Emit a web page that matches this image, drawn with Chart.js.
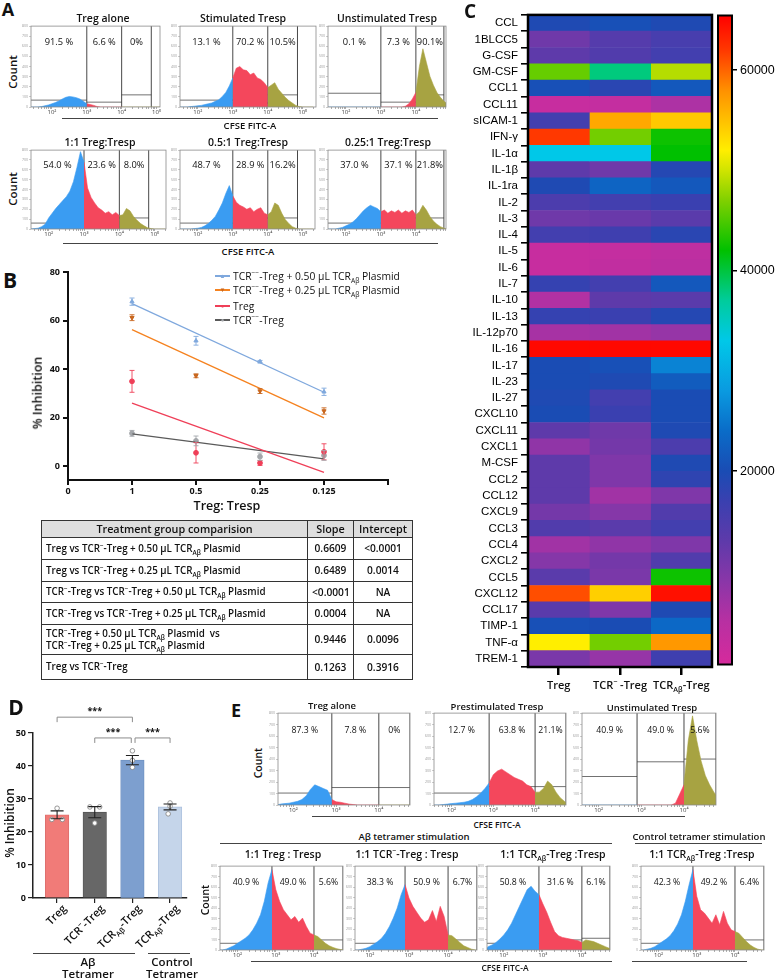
<!DOCTYPE html>
<html>
<head>
<meta charset="utf-8">
<title>Treg suppression figure</title>
<script src="https://cdn.jsdelivr.net/npm/chart.js@4.4.1/dist/chart.umd.min.js"></script>
<style>
  body { margin: 0; background: #fff; }
  #fig { position: relative; width: 777px; height: 980px; overflow: hidden; font-family: "Open Sans", sans-serif; color: #111; }
  #fig canvas { position: absolute; }
  .lb { position: absolute; white-space: nowrap; line-height: 1; }
  sup, sub { font-size: 65%; line-height: 0; }
  #tbl { position: absolute; left: 41px; top: 520px; width: 371px; border-collapse: collapse; font-weight: 600; table-layout: fixed; }
  #tbl th, #tbl td { border: 1.5px solid #333; padding: 0 4px; line-height: 1.2; }
  #tbl th { background: #dedede; height: 16px; font-size: 10.8px; font-weight: 600; }
  #tbl td { text-align: center; font-size: 10.2px; }
  #tbl td:first-child { text-align: left; font-size: 9.8px; }
</style>
</head>
<body>
<div id="fig"></div>
<script>
// ---------- histogram data (log10 CFSE grid, counts as % of axis height) ----------
const logGrid = [1.4,1.5,1.6,1.7,1.8,1.9,2.0,2.1,2.2,2.3,2.4,2.5,2.6,2.7,2.8,2.9,3.0,3.1,3.2,3.3,3.4,3.5,3.6,3.7,3.8,3.9,4.0,4.1,4.2,4.3,4.4,4.5,4.6,4.7,4.8,4.9,5.0,5.1,5.2,5.3];
const countTicks = ['0','100','200','300','400','500','600','700','800'];
const decadeLabels = { 2: '10²', 3: '10³', 4: '10⁴', 5: '10⁵' };

const aTregAlone = [0,0,0,0.5,1.5,2.5,4,5.5,7.5,10,12,13,12.5,11.5,10,7,4,3,2,0.5,0,0,0,0,0,0,0,0,0,0,0,0,0,0,0,0,0,0,0,0];
const aStimTresp = [0,0,0,0,0.5,1,1.5,2,3,4,5,7,9,13,18,26,36,48,50,46,45,40,42,36,34,30,24,27,30,22,17,12,8,5,2,0.5,0,0,0,0];
const aUnstimTresp = [0,0,0,0,0,0,0,0,0,0,0,0,0,0,0,0,0,0,0,0,0,0,0,1,4,10,18,50,72,55,38,27,18,12,7,4,1,0,0,0];
const aRatio1 = [0,0,0.5,1,3,6,14,20,26,31,36,41,48,60,78,98,85,52,40,33,27,24,20,22,18,21,17,18,26,23,16,11,7,4,1.5,0.5,0,0,0,0];
const aRatio05 = [0,0,0,0,0,0.5,1,2,4,7,11,16,24,33,45,55,42,34,30,28,25,27,22,25,27,20,18,22,33,30,20,12,7,3,1,0,0,0,0,0];
const aRatio025 = [0,0,0,0,1,2,4,6,9,13,18,23,27,30,28,26,22,24,20,23,21,24,20,23,21,24,18,22,30,24,16,10,6,3,1,0,0,0,0,0];

const eTregAlone = [0,0,0,1,1.5,2,3,4,6,10,17,22,20,18,16,6,3.5,3,2,1,0.5,0,0,0,0,0,0,0,0,0,0,0,0,0,0,0,0,0,0,0];
const ePrestim = [0,0,0,0,0.5,1,1.5,2,2.5,3,4,6,9,13,18,24,33,37,39,36,33,30,28,26,22,20,14,14,18,26,22,14,8,4,1,0,0,0,0,0];
const eUnstim = [0,0,0,0,0,0,0,0,0,0,0,0,0,0,0,0,0,0,0,0,0,0,0,0,2,12,22,70,97,70,48,32,22,14,8,4,1,0,0,0];
const eTreg = [0,0,0,1,3,5,8,11,14,18,24,32,42,58,80,96,72,58,48,42,36,40,33,38,28,20,18,16,12,8,5,3,1.5,0.5,0,0,0,0,0,0];
const eTcrKO = [0,0,0,0,1,2,4,7,10,14,20,28,38,50,66,78,62,52,45,38,33,36,47,34,52,40,18,17,13,9,5,3,1,0,0,0,0,0,0,0];
const eTcrAb = [0,0,4,6,9,13,18,24,32,42,52,62,72,76,70,66,55,45,33,22,17,15,14,13,12,11,9,12,11,10,8,6,4,2,1,0,0,0,0,0];
const eControl = [0,0,0,1,2,4,7,10,13,17,23,31,42,58,78,96,64,48,44,38,32,42,30,46,32,24,22,20,15,10,6,3,1,0,0,0,0,0,0,0];

const pctA1 = ['91.5 %', '6.6 %', '0%'];
const pctA2 = ['13.1 %', '70.2 %', '10.5%'];
const pctA3 = ['0.1 %', '7.3 %', '90.1%'];
const pctA4 = ['54.0 %', '23.6 %', '8.0%'];
const pctA5 = ['48.7 %', '28.9 %', '16.2%'];
const pctA6 = ['37.0 %', '37.1 %', '21.8%'];
const pctE1 = ['87.3 %', '7.8 %', '0%'];
const pctE2 = ['12.7 %', '63.8 %', '21.1%'];
const pctE3 = ['40.9 %', '49.0 %', '5.6%'];
const pctE4 = ['40.9 %', '49.0 %', '5.6%'];
const pctE5 = ['38.3 %', '50.9 %', '6.7%'];
const pctE6 = ['50.8 %', '31.6 %', '6.1%'];
const pctE7 = ['42.3 %', '49.2 %', '6.4%'];

// ---------- panel B ----------
const bX = [1, 2, 3, 4];
const bTickLabels = ['0', '1', '0.5', '0.25', '0.125', ''];
const fitX = [1, 4];
const p50Mean = [67.8, 51.7, 43.1, 30.7], p50Err = [1.5, 1.8, 0.5, 1.5], p50Fit = [67.0, 30.5];
const p25Mean = [61.2, 37.3, 31.0, 22.8], p25Err = [1.2, 0.8, 1.0, 1.3], p25Fit = [56.3, 20.0];
const tregMean = [35.0, 5.6, 1.4, 6.0], tregErr = [4.5, 4.2, 1.0, 3.3], tregFit = [26.0, -2.5];
const tcrMean = [13.6, 10.5, 4.0, 4.5], tcrErr = [1.2, 2.0, 1.5, 2.0], tcrFit = [13.4, 3.1];
const bNames = [
  'TCR<sup>−−</sup>-Treg + 0.50 µL TCR<sub>Aβ</sub> Plasmid',
  'TCR<sup>−−</sup>-Treg + 0.25 µL TCR<sub>Aβ</sub> Plasmid',
  'Treg',
  'TCR<sup>−−</sup>-Treg'
];

// table
const tblRows = [
  'Treg vs TCR<sup>−</sup>-Treg + 0.50 µL TCR<sub>Aβ</sub> Plasmid',
  'Treg vs TCR<sup>−</sup>-Treg + 0.25 µL TCR<sub>Aβ</sub> Plasmid',
  'TCR<sup>−</sup>-Treg vs TCR<sup>−</sup>-Treg + 0.50 µL TCR<sub>Aβ</sub> Plasmid',
  'TCR<sup>−</sup>-Treg vs TCR<sup>−</sup>-Treg + 0.25 µL TCR<sub>Aβ</sub> Plasmid',
  'TCR<sup>−</sup>-Treg + 0.50 µL TCR<sub>Aβ</sub> Plasmid &nbsp;vs<br>TCR<sup>−</sup>-Treg + 0.25 µL TCR<sub>Aβ</sub> Plasmid',
  'Treg vs TCR<sup>−</sup>-Treg'
];
const tblSlope = ['0.6609', '0.6489', '&lt;0.0001', '0.0004', '0.9446', '0.1263'];
const tblIntercept = ['&lt;0.0001', '0.0014', 'NA', 'NA', '0.0096', '0.3916'];

// ---------- panel C heatmap ----------
const hmRows = ['CCL','1BLCC5','G-CSF','GM-CSF','CCL1','CCL11','sICAM-1','IFN-γ','IL-1α','IL-1β','IL-1ra','IL-2','IL-3','IL-4','IL-5','IL-6','IL-7','IL-10','IL-13','IL-12p70','IL-16','IL-17','IL-23','IL-27','CXCL10','CXCL11','CXCL1','M-CSF','CCL2','CCL12','CXCL9','CCL3','CCL4','CXCL2','CCL5','CXCL12','CCL17','TIMP-1','TNF-α','TREM-1'];
const hmTreg = [19500,11500,13000,46000,20500,2500,16000,62000,33000,13000,19500,15000,11500,16000,2500,2500,17500,5500,17500,6500,65000,20000,20000,19500,20000,13000,8500,13000,13000,13000,11000,14500,7000,9500,13500,61000,13500,20500,52000,10500];
const hmTcrKO = [20500,14000,14500,38000,18500,3000,56500,46500,33000,11500,23000,16000,12000,16500,3000,3500,16000,13000,17000,7000,65000,20500,19500,16000,17000,11500,11000,10000,10000,7000,9500,13500,8500,11000,10500,54000,10000,20000,46500,8000];
const hmTcrAb = [19500,15500,16000,49000,21500,6000,54500,42500,42000,19000,21500,17000,13500,18500,4000,4500,21500,13500,19000,8000,65000,26000,22000,20000,20000,19500,15000,19500,18000,10000,14500,16000,10000,14500,42500,64500,19500,23500,57500,16500];
const hmColNames = ['Treg', 'TCR<sup>−</sup> -Treg', 'TCR<sub>Aβ</sub>-Treg'];
const cbMin = 700, cbMax = 65450;
const cbTicks = [20000, 40000, 60000];

// ---------- panel D ----------
const xD = [0, 1, 2, 3];
const dNames = ['Treg', 'TCR<sup>−</sup>-Treg', 'TCR<sub>Aβ</sub>-Treg', 'TCR<sub>Aβ</sub>-Treg'];
const dMeans = [25.2, 26.0, 41.8, 27.6];
const dSem = [1.2, 1.7, 1.4, 0.9];
const dDotsY = [[27.2, 23.8, 23.8], [27.6, 27.6, 22.7], [44.6, 41.7, 39.6], [28.8, 27.8, 25.5]];
const dDotsX = [[0, -0.14, 0.14], [0.87, 1.13, 1.0], [2, 2, 2], [3, 3, 2.95]];
const dBrackets = [[0, 2, 54.8], [1, 1.97, 48.5], [2.07, 3, 48.5]];

// ---------- colours ----------
const BLUE = '#3a9cf2', RED = '#f4475c', OLIVE = '#a7a342';
const cmapVals = [0,5000,9000,13000,17000,20000,24000,28000,33000,37000,42000,47000,50000,52000,55000,58000,62000,65500];
const cmapCols = ['#d62a9c','#b830a2','#8a36a8','#5e3aaa','#3a40b0','#1a4cb4','#0a6cc8','#0a9ae0','#00c8e8','#00cc9c','#00c000','#80d000','#d0e400','#ffee00','#ffc000','#ff9000','#ff3800','#ff0000'];

function hexRgb(h) { return [1, 3, 5].map(i => parseInt(h.slice(i, i + 2), 16)); }
function heatColor(v) {
  let i = 0;
  while (i < cmapVals.length - 2 && v > cmapVals[i + 1]) i++;
  const t = Math.max(0, Math.min(1, (v - cmapVals[i]) / (cmapVals[i + 1] - cmapVals[i])));
  const a = hexRgb(cmapCols[i]), b = hexRgb(cmapCols[i + 1]);
  return 'rgb(' + a.map((c, k) => Math.round(c + (b[k] - c) * t)).join(',') + ')';
}

// ---------- helpers ----------
Chart.defaults.font.family = '"Open Sans", sans-serif';
Chart.defaults.color = '#111';
Chart.defaults.animation = false;

const fig = document.getElementById('fig');
function put(html, x, y, css, tf) {
  const d = document.createElement('div');
  d.className = 'lb';
  d.style.cssText = `left:${x}px;top:${y}px;transform:${tf || 'translate(-50%,-50%)'};${css || ''}`;
  d.innerHTML = html;
  fig.appendChild(d);
  return d;
}
function hline(x1, x2, y, w, col) {
  const d = document.createElement('div');
  d.style.cssText = `position:absolute;left:${x1}px;top:${y - (w || 1) / 2}px;width:${x2 - x1}px;height:${w || 1}px;background:${col || '#333'}`;
  fig.appendChild(d);
}
function canvasAt(x, y, w, h) {
  const c = document.createElement('canvas');
  c.width = w; c.height = h;
  c.style.cssText = `left:${x}px;top:${y}px;width:${w}px;height:${h}px`;
  fig.appendChild(c);
  return c;
}

// frame box around chart area
Chart.register({
  id: 'frame',
  afterDraw(c, a, o) {
    if (!o.color) return;
    const r = c.chartArea, ctx = c.ctx;
    ctx.save();
    ctx.strokeStyle = o.color; ctx.lineWidth = o.width;
    ctx.strokeRect(r.left, r.top, r.right - r.left, r.bottom - r.top);
    ctx.restore();
  }
});
// gate percentage labels
Chart.register({
  id: 'regions',
  afterDatasetsDraw(c, a, o) {
    if (!o.labels) return;
    const x = c.scales.x, ctx = c.ctx;
    ctx.save();
    ctx.font = o.font; ctx.fillStyle = '#111';
    ctx.textAlign = 'center'; ctx.textBaseline = 'middle';
    o.labels.forEach((t, i) => {
      const cx = (x.getPixelForValue(o.edges[i]) + x.getPixelForValue(o.edges[i + 1])) / 2;
      ctx.fillText(t, cx, c.chartArea.top + o.dy);
    });
    ctx.restore();
  }
});
// error bars
Chart.register({
  id: 'errbars',
  afterDatasetsDraw(c, a, o) {
    if (!o.sets) return;
    const x = c.scales.x, y = c.scales.y, ctx = c.ctx;
    ctx.save();
    o.sets.forEach(s => {
      ctx.strokeStyle = s.color; ctx.lineWidth = s.width;
      s.xs.forEach((xv, i) => {
        const px = x.getPixelForValue(xv);
        const y1 = y.getPixelForValue(s.ys[i] - s.es[i]), y2 = y.getPixelForValue(s.ys[i] + s.es[i]);
        ctx.beginPath();
        ctx.moveTo(px, y1); ctx.lineTo(px, y2);
        ctx.moveTo(px - s.cap, y1); ctx.lineTo(px + s.cap, y1);
        ctx.moveTo(px - s.cap, y2); ctx.lineTo(px + s.cap, y2);
        ctx.stroke();
      });
    });
    ctx.restore();
  }
});
// significance brackets
Chart.register({
  id: 'brackets',
  afterDraw(c, a, o) {
    if (!o.items) return;
    const x = c.scales.x, y = c.scales.y, ctx = c.ctx;
    ctx.save();
    o.items.forEach(([x1, x2, yv]) => {
      const p1 = x.getPixelForValue(x1), p2 = x.getPixelForValue(x2), py = y.getPixelForValue(yv);
      ctx.strokeStyle = '#8c8c8c'; ctx.lineWidth = 1;
      ctx.beginPath();
      ctx.moveTo(p1, py + 5); ctx.lineTo(p1, py); ctx.lineTo(p2, py); ctx.lineTo(p2, py + 5);
      ctx.stroke();
      ctx.fillStyle = '#111'; ctx.font = 'bold 9px "Open Sans"';
      ctx.textAlign = 'center'; ctx.textBaseline = 'middle';
      ctx.fillText(o.text, (p1 + p2) / 2, py - 6);
    });
    ctx.restore();
  }
});

// ---------- flow histograms ----------
const logMinor = [];
[1, 2, 3, 4, 5].forEach(d => { for (let k = 1; k <= 9; k++) logMinor.push(d + Math.log10(k)); });

function histogram(h) {
  const [fx, fy, fw, fh] = h.frame;
  const padL = 10, padB = 10, padT = 2, padR = 2;
  const cv = canvasAt(fx - padL, fy - padT, fw + padL + padR, fh + padT + padB);
  const pts = logGrid.map((x, i) => ({ x, y: h.counts[i] }));
  const [g1, g2, g3] = h.gates;
  const part = (a, b) => pts.filter(p => p.x > a - 1e-6 && p.x < b + 1e-6);
  const area = (data, col) => ({ data, fill: 'origin', backgroundColor: col, borderColor: col, borderWidth: 0.6, pointRadius: 0 });
  const seg = (x1, y1, x2, y2, w) => ({ data: [{ x: x1, y: y1 }, { x: x2, y: y2 }], borderColor: '#333', borderWidth: w, pointRadius: 0, fill: false });
  const edges = [h.xmin, g1, g2, g3];
  const datasets = [area(part(0, g1), BLUE), area(part(g1, g2), RED), area(part(g2, 9), OLIVE)];
  h.bars.forEach((lv, i) => datasets.push(seg(edges[i], lv, edges[i + 1], lv, 0.7)));
  [g1, g2, g3].forEach(g => datasets.push(seg(g, 0, g, 100, 0.9)));
  new Chart(cv, {
    type: 'line',
    data: { datasets },
    options: {
      responsive: false, events: [],
      layout: { padding: { top: padT, right: padR, left: 0, bottom: 0 } },
      plugins: {
        legend: { display: false }, tooltip: { enabled: false },
        frame: { color: '#8a8a8a', width: 0.8 },
        regions: { labels: h.pct, edges, font: h.font, dy: h.dy }
      },
      scales: {
        x: {
          type: 'linear', min: h.xmin, max: h.xmax,
          afterFit: s => { s.height = padB; },
          afterBuildTicks: s => { s.ticks = logMinor.filter(v => v >= s.min && v <= s.max).map(v => ({ value: v })); },
          ticks: { autoSkip: false, maxRotation: 0, padding: 0, font: { size: 6 }, color: '#444',
            callback: v => (Math.abs(v - Math.round(v)) < 1e-6 ? (decadeLabels[Math.round(v)] || '') : '') },
          grid: { drawOnChartArea: false, tickLength: 2, color: '#777', lineWidth: 0.6 },
          border: { display: false }
        },
        y: {
          min: 0, max: 100,
          afterFit: s => { s.width = padL; },
          ticks: { stepSize: 12.5, font: { size: 3.5 }, color: '#999', padding: 1, callback: (v, i) => countTicks[i] || '' },
          grid: { drawOnChartArea: false, tickLength: 2, color: '#999', lineWidth: 0.5 },
          border: { display: false }
        }
      }
    }
  });
}

const fA = '9.3px "Open Sans"', fE = '8.7px "Open Sans"';
const histPanels = [
  { counts: aTregAlone, pct: pctA1, frame: [31, 25, 129, 82], xmin: 1.4, xmax: 5.1, gates: [3.0, 4.0, 4.85], bars: [8.5, 6, 15], font: fA, dy: 16 },
  { counts: aStimTresp, pct: pctA2, frame: [180, 25, 136, 82], xmin: 1.49, xmax: 5.38, gates: [3.0, 4.0, 4.85], bars: [8.5, 5, 15], font: fA, dy: 16 },
  { counts: aUnstimTresp, pct: pctA3, frame: [328, 25, 118, 82], xmin: 1.49, xmax: 4.86, gates: [3.0, 4.0, 4.8], bars: [17, 6, 15], font: fA, dy: 16 },
  { counts: aRatio1, pct: pctA4, frame: [31, 149, 135, 80], xmin: 1.5, xmax: 5.32, gates: [3.0, 4.0, 4.83], bars: [7.5, 14, 14], font: fA, dy: 15 },
  { counts: aRatio05, pct: pctA5, frame: [180, 149, 135, 80], xmin: 1.49, xmax: 5.35, gates: [3.0, 4.0, 4.85], bars: [7.5, 14, 14], font: fA, dy: 15 },
  { counts: aRatio025, pct: pctA6, frame: [328, 149, 118, 80], xmin: 1.49, xmax: 4.86, gates: [3.0, 4.0, 4.8], bars: [7.5, 14, 14], font: fA, dy: 15 },
  { counts: eTregAlone, pct: pctE1, frame: [278, 712, 132, 93], xmin: 1.64, xmax: 4.73, gates: [2.9, 4.0, 4.73], bars: [13, 19, 19], font: fE, dy: 17 },
  { counts: ePrestim, pct: pctE2, frame: [434, 712, 132, 93], xmin: 1.58, xmax: 4.74, gates: [2.9, 4.0, 4.74], bars: [13, 20, 20], font: fE, dy: 17 },
  { counts: eUnstim, pct: pctE3, frame: [582, 712, 134, 93], xmin: 1.61, xmax: 4.75, gates: [2.9, 4.0, 4.75], bars: [31, 47, 50], font: fE, dy: 17 },
  { counts: eTreg, pct: pctE4, frame: [220, 865, 123, 85], xmin: 1.54, xmax: 4.76, gates: [2.9, 4.0, 4.76], bars: [8, 12, 12], font: fE, dy: 16 },
  { counts: eTcrKO, pct: pctE5, frame: [355, 865, 122, 85], xmin: 1.62, xmax: 4.74, gates: [2.9, 4.0, 4.74], bars: [8, 12, 12], font: fE, dy: 16 },
  { counts: eTcrAb, pct: pctE6, frame: [487, 865, 123, 85], xmin: 1.57, xmax: 4.72, gates: [2.9, 4.0, 4.72], bars: [8, 12, 14], font: fE, dy: 16 },
  { counts: eControl, pct: pctE7, frame: [641, 865, 123, 85], xmin: 1.54, xmax: 4.76, gates: [2.9, 4.0, 4.76], bars: [8, 12, 12], font: fE, dy: 16 }
];
histPanels.forEach(histogram);

// panel A / E labels
const semi = 'font-weight:600;';
put('A', 8, 9, 'font-weight:700;font-size:18px;');
put('Treg alone', 103, 18, semi + 'font-size:10.5px;');
put('Stimulated Tresp', 243, 18, semi + 'font-size:10.5px;');
put('Unstimulated Tresp', 387, 18, semi + 'font-size:10.5px;');
put('1:1 Treg:Tresp', 100, 142, semi + 'font-size:10.5px;');
put('0.5:1 Treg:Tresp', 248, 142, semi + 'font-size:10.5px;');
put('0.25:1 Treg:Tresp', 388, 142, semi + 'font-size:10.5px;');
put('Count', 13, 72, semi + 'font-size:11.5px;', 'translate(-50%,-50%) rotate(-90deg)');
put('Count', 13, 189, semi + 'font-size:11.5px;', 'translate(-50%,-50%) rotate(-90deg)');
hline(62, 438, 118, 1, '#444');
hline(63, 438, 243, 1, '#444');
put('CFSE FITC-A', 250, 126, semi + 'font-size:9.5px;');
put('CFSE FITC-A', 248, 252, semi + 'font-size:9.5px;');

put('E', 236, 710, 'font-weight:700;font-size:18px;');
put('Treg alone', 332, 706, semi + 'font-size:9.5px;');
put('Prestimulated Tresp', 497, 707, semi + 'font-size:9.5px;');
put('Unstimulated Tresp', 652, 708, semi + 'font-size:9.5px;');
put('Count', 258, 763, semi + 'font-size:10.5px;', 'translate(-50%,-50%) rotate(-90deg)');
put('Count', 205, 900, semi + 'font-size:10.5px;', 'translate(-50%,-50%) rotate(-90deg)');
hline(312, 685, 816, 1, '#444');
put('CFSE FITC-A', 497, 825, semi + 'font-size:8.5px;');
put('Aβ tetramer stimulation', 414, 837, semi + 'font-size:9.5px;');
hline(220, 612, 843, 1, '#444');
put('Control tetramer stimulation', 699, 837, semi + 'font-size:9.5px;');
hline(635, 762, 843, 1, '#444');
put('1:1 Treg : Tresp', 283, 854, semi + 'font-size:10.5px;');
put('1:1 TCR<sup>−</sup>-Treg : Tresp', 407, 854, semi + 'font-size:10.5px;');
put('1:1 TCR<sub>Aβ</sub>-Treg :Tresp', 553, 854, semi + 'font-size:10.5px;');
put('1:1 TCR<sub>Aβ</sub>-Treg :Tresp', 702, 854, semi + 'font-size:10.5px;');
hline(251, 612, 961, 1, '#444');
hline(632, 747, 961, 1, '#444');
put('CFSE FITC-A', 505, 968, semi + 'font-size:8.5px;');

// ---------- panel B ----------
const bSeries = [
  { mean: p50Mean, err: p50Err, fit: p50Fit, dot: '#7fa8dd', line: '#7fa8dd', style: 'triangle', rot: 0, glyph: '▲' },
  { mean: p25Mean, err: p25Err, fit: p25Fit, dot: '#c8671f', line: '#f5821f', style: 'triangle', rot: 180, glyph: '▼' },
  { mean: tregMean, err: tregErr, fit: tregFit, dot: '#ef3f58', line: '#ef3f58', style: 'circle', rot: 0, glyph: '●' },
  { mean: tcrMean, err: tcrErr, fit: tcrFit, dot: '#a3a6aa', line: '#5a5a5a', style: 'circle', rot: 0, glyph: '●' }
];
const bData = [];
bSeries.forEach(s => {
  bData.push({ type: 'line', data: fitX.map((x, i) => ({ x, y: s.fit[i] })), borderColor: s.line, borderWidth: 1.3, pointRadius: 0 });
  bData.push({ type: 'scatter', data: bX.map((x, i) => ({ x, y: s.mean[i] })), pointStyle: s.style, pointRotation: s.rot,
    pointRadius: 2.4, radius: 2.4, pointBackgroundColor: s.dot, pointBorderColor: s.dot, backgroundColor: s.dot, borderColor: s.dot });
});
const boldTick = { size: 9, weight: 'bold' };
new Chart(canvasAt(20, 262, 375, 236), {
  type: 'scatter',
  data: { datasets: bData },
  options: {
    responsive: false, events: [],
    layout: { padding: { top: 10, right: 7, left: 0, bottom: 0 } },
    plugins: {
      legend: { display: false }, tooltip: { enabled: false },
      errbars: { sets: bSeries.map(s => ({ xs: bX, ys: s.mean, es: s.err, color: s.dot, cap: 2.5, width: 0.9 })) }
    },
    scales: {
      x: {
        type: 'linear', min: 0, max: 5,
        afterFit: s => { s.height = 18; },
        afterBuildTicks: s => { s.ticks = [0, 1, 2, 3, 4, 5].map(v => ({ value: v })); },
        ticks: { font: boldTick, color: '#111', padding: 1, maxRotation: 0, callback: (v, i) => bTickLabels[i] },
        grid: { drawOnChartArea: false, tickLength: 5, color: '#111', lineWidth: 2 },
        border: { color: '#111', width: 2 }
      },
      y: {
        min: -5.6, max: 80,
        afterFit: s => { s.width = 48; },
        afterBuildTicks: s => { s.ticks = [0, 20, 40, 60, 80].map(v => ({ value: v })); },
        ticks: { font: boldTick, color: '#111', padding: 3 },
        grid: { drawOnChartArea: false, tickLength: 5, color: '#111', lineWidth: 2 },
        border: { color: '#111', width: 2 }
      }
    }
  }
});
put('B', 10, 280, 'font-weight:700;font-size:21px;');
put('% Inhibition', 38, 393, semi + 'font-size:12.5px;', 'translate(-50%,-50%) rotate(-90deg)');
put('Treg: Tresp', 227, 506, semi + 'font-size:12.5px;');
const legY = [276, 290, 306, 320];
bSeries.forEach((s, i) => {
  hline(215, 230, legY[i], 1.3, s.line);
  put(s.glyph, 222.5, legY[i], `font-size:6px;color:${s.dot};`);
  put(bNames[i], 233, legY[i], 'font-size:10.3px;', 'translateY(-50%)');
});

// table
const tbl = document.createElement('table');
tbl.id = 'tbl';
const rowH = [22, 22, 21, 22, 30, 25];
let tblHtml = '<colgroup><col style="width:266px"><col style="width:46px"><col style="width:59px"></colgroup>' +
  '<tr><th>Treatment group comparision</th><th>Slope</th><th>Intercept</th></tr>';
tblRows.forEach((r, i) => {
  tblHtml += `<tr style="height:${rowH[i]}px"><td>${r}</td><td>${tblSlope[i]}</td><td>${tblIntercept[i]}</td></tr>`;
});
tbl.innerHTML = tblHtml;
fig.appendChild(tbl);

// ---------- panel C ----------
const hmCols = [hmTreg, hmTcrKO, hmTcrAb];
const hmChart = new Chart(canvasAt(440, 5, 280, 690), {
  type: 'bar',
  data: {
    labels: hmRows,
    datasets: hmCols.map((vals, j) => ({
      data: hmRows.map(() => [j, j + 1]),
      backgroundColor: vals.map(heatColor),
      grouped: false, barPercentage: 1, categoryPercentage: 1, borderWidth: 0
    }))
  },
  options: {
    indexAxis: 'y', responsive: false, events: [],
    layout: { padding: { top: 8, right: 8, left: 0, bottom: 0 } },
    plugins: { legend: { display: false }, tooltip: { enabled: false }, frame: { color: '#000', width: 2.5 } },
    scales: {
      y: {
        afterFit: s => { s.width = 88; },
        ticks: { autoSkip: false, font: { family: '"Liberation Sans", Arial, sans-serif', size: 11.5 }, color: '#000', padding: 3 },
        grid: { drawOnChartArea: false, tickLength: 7, color: '#000', lineWidth: 1.6 },
        border: { display: false }
      },
      x: {
        type: 'linear', min: 0, max: 3,
        afterFit: s => { s.height = 28; },
        afterBuildTicks: s => { s.ticks = [0.5, 1.5, 2.5].map(v => ({ value: v })); },
        ticks: { callback: () => '' },
        grid: { drawOnChartArea: false, tickLength: 8, color: '#000', lineWidth: 2.5 },
        border: { display: false }
      }
    }
  }
});
hmColNames.forEach((n, j) => {
  put(n, 440 + hmChart.scales.x.getPixelForValue(j + 0.5), 684, semi + 'font-size:11px;');
});
put('C', 470, 11, 'font-weight:700;font-size:19px;');

new Chart(canvasAt(716, 5, 61, 670), {
  type: 'bar',
  data: {
    labels: [''],
    datasets: [{
      data: [[cbMin, cbMax]], barPercentage: 1, categoryPercentage: 1, borderWidth: 0,
      backgroundColor: ctx => {
        const ch = ctx.chart, y = ch.scales.y;
        if (!ch.chartArea || !y) return cmapCols[0];
        const g = ch.ctx.createLinearGradient(0, y.getPixelForValue(cbMin), 0, y.getPixelForValue(cbMax));
        cmapVals.forEach((v, i) => g.addColorStop(Math.max(0, Math.min(1, (v - cbMin) / (cbMax - cbMin))), cmapCols[i]));
        return g;
      }
    }]
  },
  options: {
    responsive: false, events: [],
    layout: { padding: { top: 8, bottom: 8, left: 2, right: 0 } },
    plugins: { legend: { display: false }, tooltip: { enabled: false }, frame: { color: '#000', width: 2 } },
    scales: {
      x: { display: false },
      y: {
        position: 'right', min: cbMin, max: cbMax,
        afterFit: s => { s.width = 45; },
        afterBuildTicks: s => { s.ticks = cbTicks.map(v => ({ value: v })); },
        ticks: { font: { family: '"Liberation Sans", Arial, sans-serif', size: 12.5 }, color: '#000', padding: 3, callback: v => String(v) },
        grid: { drawOnChartArea: false, tickLength: 5, color: '#000', lineWidth: 1.5 },
        border: { display: false }
      }
    }
  }
});

// ---------- panel D ----------
const dDots = [];
dDotsY.forEach((ys, g) => ys.forEach((y, k) => dDots.push({ x: dDotsX[g][k], y })));
const dChart = new Chart(canvasAt(0, 700, 200, 210), {
  type: 'bar',
  data: {
    datasets: [
      { type: 'scatter', data: dDots, pointStyle: 'circle', pointRadius: 2.3, radius: 2.3,
        pointBackgroundColor: '#fff', pointBorderColor: '#8a8a8a', backgroundColor: '#fff', borderColor: '#8a8a8a', pointBorderWidth: 0.9, borderWidth: 0.9 },
      { type: 'bar', data: xD.map((x, i) => ({ x, y: dMeans[i] })), barThickness: 23.5,
        backgroundColor: ['#f17b78', '#676767', '#7d9fcf', '#c5d5ea'], borderColor: ['#d96b69', '#555', '#6b8dbd', '#aabfdc'], borderWidth: 0.8 }
    ]
  },
  options: {
    responsive: false, events: [],
    layout: { padding: { top: 33, right: 13, left: 0, bottom: 0 } },
    plugins: {
      legend: { display: false }, tooltip: { enabled: false },
      errbars: { sets: [{ xs: xD, ys: dMeans, es: dSem, color: '#222', cap: 6.5, width: 1.1 }] },
      brackets: { items: dBrackets, text: '***' }
    },
    scales: {
      x: {
        type: 'linear', min: -0.64, max: 3.45, offset: false,
        afterFit: s => { s.height = 12; },
        afterBuildTicks: s => { s.ticks = xD.map(v => ({ value: v })); },
        ticks: { callback: () => '' },
        grid: { offset: false, drawOnChartArea: false, tickLength: 5, color: '#222', lineWidth: 1.2 },
        border: { color: '#222', width: 1.5 }
      },
      y: {
        min: 0, max: 50,
        afterFit: s => { s.width = 33; },
        ticks: { stepSize: 10, font: boldTick, color: '#111', padding: 2 },
        grid: { drawOnChartArea: false, tickLength: 5, color: '#222', lineWidth: 1.2 },
        border: { color: '#222', width: 1.5 }
      }
    }
  }
});
put('D', 16, 707, 'font-weight:700;font-size:21px;');
put('% Inhibition', 10, 823, semi + 'font-size:12px;', 'translate(-50%,-50%) rotate(-90deg)');
dNames.forEach((n, i) => {
  const px = dChart.scales.x.getPixelForValue(xD[i]) + 7;
  put(n, px, 906, semi + 'font-size:11px;transform-origin:right center;', 'translate(-100%,-50%) rotate(-45deg)');
});
hline(33, 135, 953, 1, '#444');
hline(148, 190, 953, 1, '#444');
put('Aβ', 88, 962, semi + 'font-size:11.5px;');
put('Tetramer', 88, 974, semi + 'font-size:11.5px;');
put('Control', 172, 962, semi + 'font-size:11.5px;');
put('Tetramer', 172, 974, semi + 'font-size:11.5px;');
</script>
</body>
</html>
